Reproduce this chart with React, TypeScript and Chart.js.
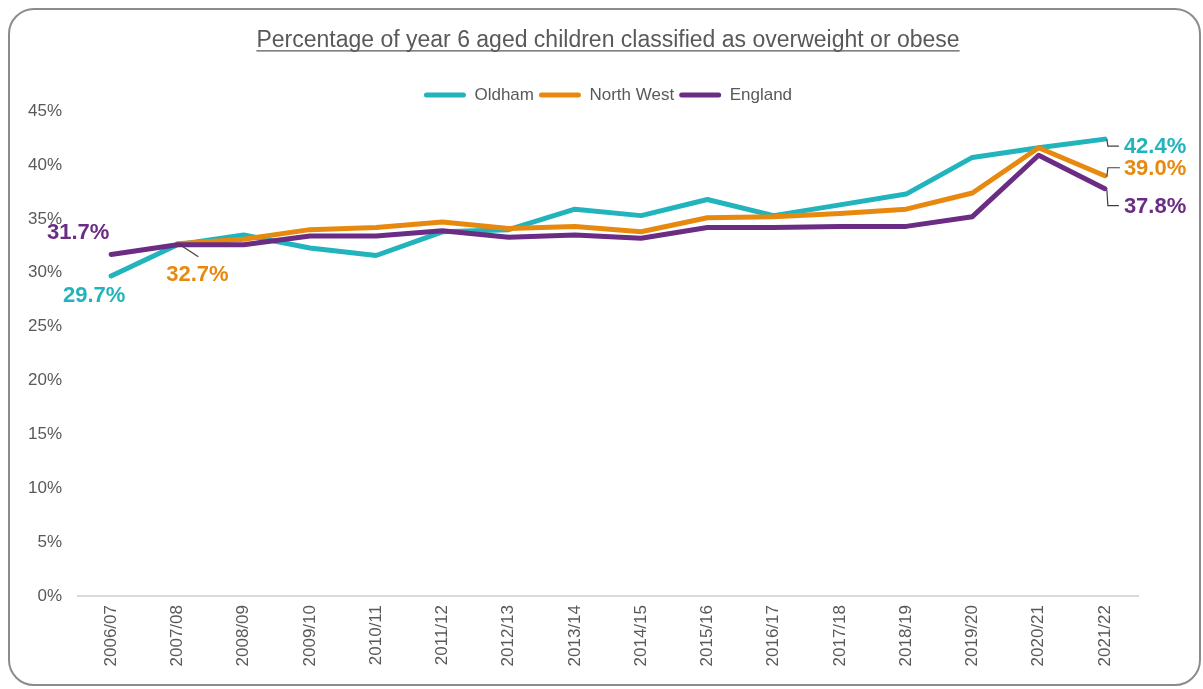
import React, { useEffect, useRef } from "react";
import { Chart, registerables } from "chart.js";

Chart.register(...registerables);

const categories = [
  "2006/07", "2007/08", "2008/09", "2009/10", "2010/11", "2011/12", "2012/13", "2013/14",
  "2014/15", "2015/16", "2016/17", "2017/18", "2018/19", "2019/20", "2020/21", "2021/22",
];
const oldham = [29.7, 32.6, 33.5, 32.3, 31.6, 33.8, 34.0, 35.9, 35.3, 36.8, 35.3, 36.3, 37.3, 40.7, 41.6, 42.4];
const northWest = [null, 32.7, 33.1, 34.0, 34.2, 34.7, 34.1, 34.3, 33.8, 35.1, 35.2, 35.5, 35.9, 37.4, 41.6, 39.0];
const england = [31.7, 32.6, 32.6, 33.4, 33.4, 33.9, 33.3, 33.5, 33.2, 34.2, 34.2, 34.3, 34.3, 35.2, 40.9, 37.8];
const yTicks = [0, 5, 10, 15, 20, 25, 30, 35, 40, 45];

const TITLE = "Percentage of year 6 aged children classified as overweight or obese";
const FONT = "'Liberation Sans', Arial, sans-serif";
const GREY = "#595959";
const CYAN = "#22B4BD";
const ORANGE = "#E8890F";
const PURPLE = "#6B2C84";
const TITLE_SIZE = 23;
const TITLE_PAD_TOP = 17;

// label annotations: dataset index, data index, offsets and leader path (pixel offsets from point)
const labelSpecs = [
  { ds: 2, i: 0, dx: -33, dy: -21, align: "center", leader: null },
  { ds: 0, i: 0, dx: -17, dy: 20, align: "center", leader: null },
  { ds: 1, i: 1, dx: 20, dy: 31, align: "center", leader: [[1, 0], [21, 13]] },
  { ds: 0, i: 15, dx: 19, dy: 8, align: "left", leader: [[2, 0], [3, 7], [14, 7]] },
  { ds: 1, i: 15, dx: 19, dy: -7, align: "left", leader: [[2, 1], [3, -8], [15, -8]] },
  { ds: 2, i: 15, dx: 19, dy: 18, align: "left", leader: [[2, 1], [3, 17], [14, 17]] },
];

const labelPlugin = {
  id: "valueLabels",
  afterDatasetsDraw(chart: any) {
    const ctx = chart.ctx;
    ctx.save();
    labelSpecs.forEach((s) => {
      const meta = chart.getDatasetMeta(s.ds);
      const pt = meta.data[s.i];
      if (!pt) return;
      const ds = chart.data.datasets[s.ds];
      const v = ds.data[s.i] as number;
      if (s.leader) {
        ctx.strokeStyle = "#404040";
        ctx.lineWidth = 1.2;
        ctx.beginPath();
        s.leader.forEach((p: number[], k: number) => {
          const x = pt.x + p[0];
          const y = pt.y + p[1];
          if (k === 0) ctx.moveTo(x, y);
          else ctx.lineTo(x, y);
        });
        ctx.stroke();
      }
      ctx.font = `bold 22px ${FONT}`;
      ctx.fillStyle = ds.borderColor;
      ctx.textAlign = s.align;
      ctx.textBaseline = "middle";
      ctx.fillText(v.toFixed(1) + "%", pt.x + s.dx, pt.y + s.dy);
    });
    ctx.restore();
  },
};

// Centre title and legend over the plot area (as in the reference), tighten legend box, underline title
const headerPlugin = {
  id: "header",
  beforeLayout(chart: any) {
    const lg = chart.legend;
    if (lg && !lg._fitPatched) {
      const orig = lg.fit.bind(lg);
      lg.fit = function () {
        orig();
        this.height = Math.max(0, this.height - 2.5);
      };
      lg._fitPatched = true;
    }
  },
  afterLayout(chart: any) {
    const ca = chart.chartArea;
    const half = Math.min(ca.left + ca.right, 2 * chart.width - (ca.left + ca.right)) / 2;
    const cx = (ca.left + ca.right) / 2;
    [chart.titleBlock, chart.legend].forEach((b: any) => {
      if (!b) return;
      b.left = cx - half + 10;
      b.right = cx + half - 10;
      b.width = b.right - b.left;
    });
  },
  afterDraw(chart: any) {
    const tb = chart.titleBlock;
    if (!tb) return;
    const ctx = chart.ctx;
    ctx.save();
    ctx.font = `${TITLE_SIZE}px ${FONT}`;
    const w = ctx.measureText(TITLE).width;
    const cx = (tb.left + tb.right) / 2;
    const y = tb.top + TITLE_PAD_TOP + (TITLE_SIZE * 1.2) / 2 + 10;
    ctx.strokeStyle = GREY;
    ctx.lineWidth = 1.2;
    ctx.beginPath();
    ctx.moveTo(cx - w / 2, y);
    ctx.lineTo(cx + w / 2, y);
    ctx.stroke();
    ctx.restore();
  },
};

export default function App() {
  const ref = useRef<HTMLCanvasElement>(null);
  useEffect(() => {
    if (!ref.current) return;
    const mk = (label: string, data: any[], color: string, order: number) => ({
      label,
      data,
      borderColor: color,
      backgroundColor: color,
      borderWidth: 5,
      pointRadius: 0,
      pointHoverRadius: 0,
      tension: 0,
      borderJoinStyle: "round" as const,
      borderCapStyle: "round" as const,
      spanGaps: false,
      order,
    });
    const chart = new Chart(ref.current, {
      type: "line",
      data: {
        labels: categories,
        datasets: [
          mk("Oldham", oldham, CYAN, 3),
          mk("North West", northWest, ORANGE, 2),
          mk("England", england, PURPLE, 1),
        ],
      },
      options: {
        responsive: false,
        animation: false,
        layout: { padding: { left: 10, right: 61, top: 0, bottom: 8 } },
        plugins: {
          title: {
            display: true,
            text: TITLE,
            color: GREY,
            font: { family: FONT, size: TITLE_SIZE, weight: "normal" },
            padding: { top: TITLE_PAD_TOP, bottom: 27 },
          },
          legend: {
            display: true,
            position: "top",
            labels: {
              color: GREY,
              font: { family: FONT, size: 17 },
              boxWidth: 42,
              boxHeight: 5,
              padding: 5,
              sort: (a: any, b: any) => a.datasetIndex - b.datasetIndex,
              generateLabels: (chart: any) => {
                const items = Chart.defaults.plugins.legend.labels.generateLabels(chart);
                return items.map((it: any) => ({
                  ...it,
                  fillStyle: chart.data.datasets[it.datasetIndex].borderColor,
                  lineWidth: 0,
                  borderRadius: 2.5,
                }));
              },
            },
          },
          tooltip: { enabled: false },
        },
        scales: {
          x: {
            type: "category",
            offset: true,
            grid: { display: false, drawTicks: false },
            border: { display: true, color: "#D9D9D9", width: 2 },
            ticks: {
              color: GREY,
              font: { family: FONT, size: 17 },
              minRotation: 90,
              maxRotation: 90,
              autoSkip: false,
              padding: 9,
            },
            afterFit: (s: any) => {
              s.height = 80;
            },
          },
          y: {
            min: 0,
            max: 45,
            grid: { display: false, drawTicks: false },
            border: { display: false },
            afterBuildTicks: (s: any) => {
              s.ticks = yTicks.map((v) => ({ value: v }));
            },
            ticks: {
              color: GREY,
              font: { family: FONT, size: 17 },
              padding: 16,
              callback: (v: any) => v + "%",
            },
            afterFit: (s: any) => {
              s.width = 58;
            },
          },
        },
      },
      plugins: [labelPlugin, headerPlugin],
    });
    return () => chart.destroy();
  }, []);

  return (
    <div
      style={{
        position: "absolute",
        left: 8,
        top: 8,
        width: 1193,
        height: 678,
        boxSizing: "border-box",
        border: "2px solid #8C8C8C",
        borderRadius: 26,
        background: "#fff",
        overflow: "hidden",
      }}
    >
      <canvas ref={ref} width={1189} height={674} style={{ display: "block" }} />
    </div>
  );
}
